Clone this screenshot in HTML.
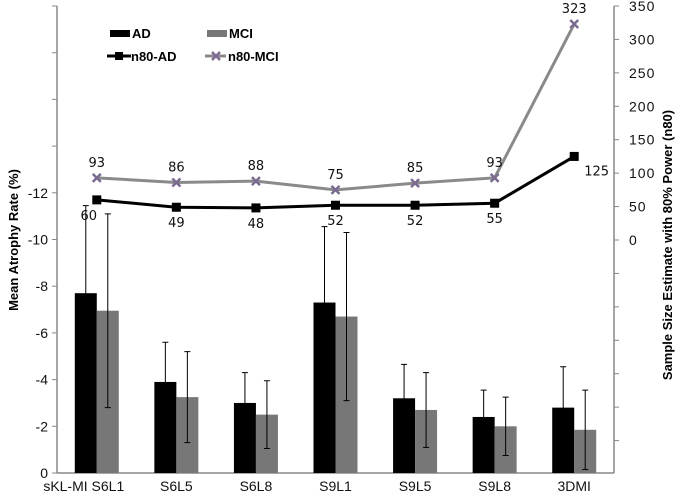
<!DOCTYPE html>
<html><head><meta charset="utf-8"><style>
html,body{margin:0;padding:0;background:#fff;}
svg{display:block;font-family:"Liberation Sans",Arial,sans-serif;}
</style></head><body>
<svg id="c" width="685" height="497" viewBox="0 0 685 497"></svg>
<script>
const categories=["sKL-MI S6L1","S6L5","S6L8","S9L1","S9L5","S9L8","3DMI"];
const adValues=[7.7,3.9,3.0,7.3,3.2,2.4,2.8];
const mciValues=[6.95,3.25,2.5,6.7,2.7,2.0,1.85];
const adErr=[3.75,1.7,1.3,3.25,1.45,1.15,1.75];
const mciErr=[4.15,1.95,1.45,3.6,1.6,1.25,1.7];
const n80AD=[60,49,48,52,52,55,125];
const n80MCI=[93,86,88,75,85,93,323];
const leftTicks=[0,-2,-4,-6,-8,-10,-12,-14,-16,-18,-20];
const leftTickLabels=["0","-2","-4","-6","-8","-10","-12","","","",""];
const rightTicks=[-300,-250,-200,-150,-100,-50,0,50,100,150,200,250,300,350];

const NS="http://www.w3.org/2000/svg";
const svg=document.getElementById('c');
function mk(tag,attrs,parent){const e=document.createElementNS(NS,tag);for(const k in attrs)e.setAttribute(k,attrs[k]);(parent||svg).appendChild(e);return e;}
const X0=57,X1=614,Y0=473,YT=6;
const yL=v=>Y0-(-v)/20*(Y0-YT);
const yR=v=>240-v/350*(240-YT);
const gw=(X1-X0)/categories.length;
const xc=i=>X0+gw*(i+0.5);

// axes
let e=mk('line',{x1:X0,y1:YT,x2:X0,y2:Y0,stroke:'#888','stroke-width':1.5});

e=mk('line',{x1:X1,y1:YT,x2:X1,y2:Y0,stroke:'#888','stroke-width':1.5});

e=mk('line',{x1:X0,y1:Y0,x2:X1,y2:Y0,stroke:'#888','stroke-width':1.5});


leftTicks.forEach((v,i)=>{
  const y=yL(v);
  const t=mk('line',{x1:X0-5,y1:y,x2:X0,y2:y,stroke:'#888','stroke-width':1});
  
  if(leftTickLabels[i]){
    const l=mk('text',{x:X0-9,y:y+5,'text-anchor':'end','font-size':14,fill:'#111'});
    l.textContent=leftTickLabels[i];
    
  }
});
rightTicks.forEach(v=>{
  const y=yR(v);
  const t=mk('line',{x1:X1,y1:y,x2:X1+5,y2:y,stroke:'#888','stroke-width':1});
  
  if(v>=0){
    const l=mk('text',{x:X1+15,y:y+5,'font-size':14,fill:'#111','letter-spacing':'1'});
    l.textContent=String(v);
    
  }
});

// bars
const bw=22;
categories.forEach((c,i)=>{
  const cx=xc(i);
  const b1=mk('rect',{x:cx-bw,y:yL(-adValues[i]),width:bw,height:Y0-yL(-adValues[i]),fill:'#000'});
  
  const b2=mk('rect',{x:cx,y:yL(-mciValues[i]),width:bw,height:Y0-yL(-mciValues[i]),fill:'#777'});
  
  [[cx-bw/2,adValues[i],adErr[i]],[cx+bw/2,mciValues[i],mciErr[i]]].forEach(([x,v,er])=>{
    const t=yL(-(v+er)),b=yL(-(v-er));
    const g=mk('path',{d:`M${x},${t}V${b}M${x-3},${t}H${x+3}M${x-3},${b}H${x+3}`,stroke:'#000','stroke-width':1,fill:'none'});
    
  });
  const l=mk('text',{x:cx,y:491,'text-anchor':'middle','font-size':14,fill:'#111'});
  if(i===0){l.setAttribute('x',cx-13);}
  l.textContent=c;
  
});

// lines
function line(vals,color,w,name){
  const p=mk('polyline',{points:vals.map((v,i)=>xc(i)+','+yR(v)).join(' '),fill:'none',stroke:color,'stroke-width':w});
  
}
line(n80MCI,'#8a8a8a',3,'n80-mci-line');
line(n80AD,'#000',3,'n80-ad-line');
n80MCI.forEach((v,i)=>{
  const x=xc(i),y=yR(v);
  const m=mk('path',{d:`M${x-4},${y-4}L${x+4},${y+4}M${x-4},${y+4}L${x+4},${y-4}`,stroke:'#7a6a90','stroke-width':2.5});
  
  const t=mk('text',{x:x,y:y-11,'text-anchor':'middle','font-size':13,fill:'#111','font-family':'DejaVu Sans, sans-serif'});
  t.textContent=String(v);
  
});
n80AD.forEach((v,i)=>{
  const x=xc(i),y=yR(v);
  const m=mk('rect',{x:x-4.5,y:y-4.5,width:9,height:9,fill:'#000'});
  
  const last=i===n80AD.length-1;
  const t=mk('text',{x:last?x+10:x,y:last?y+19:y+20,'text-anchor':last?'start':'middle','font-size':13,fill:'#111','font-family':'DejaVu Sans, sans-serif'});
  if(i===0)t.setAttribute('x',x-8);
  t.textContent=String(v);
  
});

// legend
e=mk('rect',{x:110,y:30,width:20,height:7,fill:'#000'});
e=mk('text',{x:132,y:38,'font-size':13,'font-weight':'bold'});e.textContent='AD';
e=mk('rect',{x:207,y:30,width:20,height:7,fill:'#777'});
e=mk('text',{x:229,y:38,'font-size':13,'font-weight':'bold'});e.textContent='MCI';
e=mk('line',{x1:107,y1:56,x2:131,y2:56,stroke:'#000','stroke-width':3});
e=mk('rect',{x:115,y:52,width:8,height:8,fill:'#000'});
e=mk('text',{x:131,y:61,'font-size':13,'font-weight':'bold'});e.textContent='n80-AD';
e=mk('line',{x1:205,y1:56,x2:226,y2:56,stroke:'#8a8a8a','stroke-width':3});
e=mk('path',{d:'M212,52L220,60M212,60L220,52',stroke:'#7a6a90','stroke-width':2.5});
e=mk('text',{x:228,y:61,'font-size':13,'font-weight':'bold'});e.textContent='n80-MCI';

// axis titles
e=mk('text',{transform:'translate(18,240) rotate(-90)','text-anchor':'middle','font-size':13,'font-weight':'bold'});e.textContent='Mean Atrophy Rate (%)';
e=mk('text',{transform:'translate(672,245) rotate(-90)','text-anchor':'middle','font-size':13,'font-weight':'bold'});e.textContent='Sample Size Estimate with 80% Power (n80)';
</script>
</body></html>
